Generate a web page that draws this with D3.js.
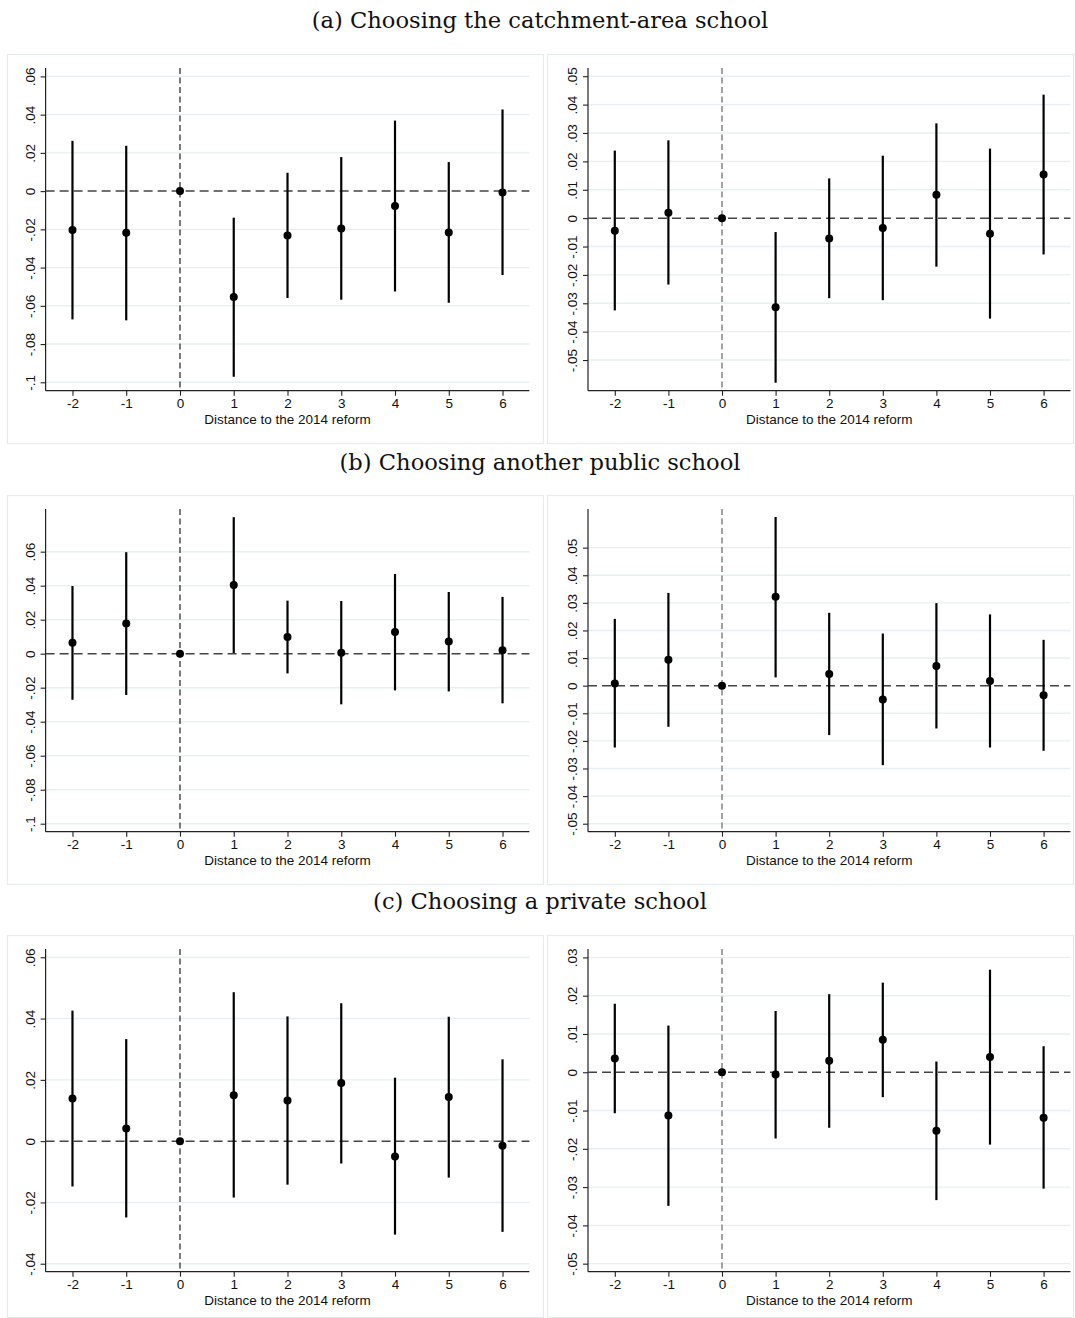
<!DOCTYPE html>
<html>
<head>
<meta charset="utf-8">
<script src="https://cdn.jsdelivr.net/npm/d3@7"></script>
<style>
  html, body { margin: 0; padding: 0; background: #fff; }
  svg { display: block; }
</style>
</head>
<body>
<svg id="chart" width="1075" height="1318"></svg>
<script>
// ---------------- DATA ----------------
const periods = [-2, -1, 0, 1, 2, 3, 4, 5, 6];
const xTickLabels = ["-2", "-1", "0", "1", "2", "3", "4", "5", "6"];
const xAxisTitle = "Distance to the 2014 reform";
const rowTitles = [
  "(a) Choosing the catchment-area school",
  "(b) Choosing another public school",
  "(c) Choosing a private school"
];

// (a) left
const aLeftCoef = [-0.0204, -0.0218, 0, -0.0554, -0.0232, -0.0195, -0.0078, -0.0216, -0.0007];
const aLeftLo   = [-0.0671, -0.0676, 0, -0.0971, -0.0559, -0.0568, -0.0525, -0.0584, -0.0439];
const aLeftHi   = [ 0.0263,  0.0237, 0, -0.0139,  0.0096,  0.0178,  0.0369,  0.0152,  0.0427];
// (a) right
const aRightCoef = [-0.0044, 0.0019, 0, -0.0314, -0.0072, -0.0035, 0.0082, -0.0055, 0.0154];
const aRightLo   = [-0.0325, -0.0234, 0, -0.0580, -0.0282, -0.0289, -0.0171, -0.0354, -0.0128];
const aRightHi   = [ 0.0238, 0.0274, 0, -0.0049, 0.0140, 0.0220, 0.0334, 0.0245, 0.0435];
// (b) left
const bLeftCoef = [0.0065, 0.0177, 0, 0.0404, 0.0098, 0.0006, 0.0128, 0.0071, 0.0020];
const bLeftLo   = [-0.0271, -0.0243, 0, 0.0004, -0.0116, -0.0298, -0.0216, -0.0222, -0.0292];
const bLeftHi   = [0.0398, 0.0597, 0, 0.0803, 0.0312, 0.0310, 0.0469, 0.0363, 0.0334];
// (b) right
const bRightCoef = [0.0008, 0.0094, 0, 0.0322, 0.0042, -0.0050, 0.0071, 0.0017, -0.0035];
const bRightLo   = [-0.0224, -0.0149, 0, 0.0030, -0.0179, -0.0288, -0.0155, -0.0224, -0.0236];
const bRightHi   = [0.0242, 0.0336, 0, 0.0611, 0.0264, 0.0189, 0.0299, 0.0258, 0.0166];
// (c) left
const cLeftCoef = [0.0139, 0.0041, 0, 0.0150, 0.0133, 0.0190, -0.0050, 0.0144, -0.0015];
const cLeftLo   = [-0.0148, -0.0249, 0, -0.0184, -0.0142, -0.0073, -0.0305, -0.0119, -0.0296];
const cLeftHi   = [0.0426, 0.0333, 0, 0.0486, 0.0407, 0.0450, 0.0207, 0.0406, 0.0267];
// (c) right
const cRightCoef = [0.0036, -0.0113, 0, -0.0006, 0.0030, 0.0085, -0.0153, 0.0040, -0.0119];
const cRightLo   = [-0.0107, -0.0349, 0, -0.0173, -0.0145, -0.0065, -0.0334, -0.0189, -0.0304];
const cRightHi   = [0.0179, 0.0122, 0, 0.0160, 0.0204, 0.0234, 0.0028, 0.0268, 0.0068];

// y-axis ticks and labels
const yTicksWide   = [-0.1, -0.08, -0.06, -0.04, -0.02, 0, 0.02, 0.04, 0.06];
const yLabelsWide  = ["-.1", "-.08", "-.06", "-.04", "-.02", "0", ".02", ".04", ".06"];
const yTicksFive   = [-0.05, -0.04, -0.03, -0.02, -0.01, 0, 0.01, 0.02, 0.03, 0.04, 0.05];
const yLabelsFive  = ["-.05", "-.04", "-.03", "-.02", "-.01", "0", ".01", ".02", ".03", ".04", ".05"];
const yTicksCL     = [-0.04, -0.02, 0, 0.02, 0.04, 0.06];
const yLabelsCL    = ["-.04", "-.02", "0", ".02", ".04", ".06"];
const yTicksCR     = [-0.05, -0.04, -0.03, -0.02, -0.01, 0, 0.01, 0.02, 0.03];
const yLabelsCR    = ["-.05", "-.04", "-.03", "-.02", "-.01", "0", ".01", ".02", ".03"];

// y-axis ranges (bottom, top)
const yRangeAL = [-0.1044, 0.0644];
const yRangeAR = [-0.0608, 0.0529];
const yRangeBL = [-0.1047, 0.0851];
const yRangeBR = [-0.0529, 0.0640];
const yRangeCL = [-0.0426, 0.0627];
const yRangeCR = [-0.0521, 0.0322];

// ---------------- LAYOUT ----------------
const svg = d3.select("#chart");
const rowFrameTop = [54, 495, 935];
const rowTitleY = [28, 470, 909];
const colFrame = [{x: 7, w: 536}, {x: 547, w: 526}];
const colPlot = [{l: 45.6, r: 529.4}, {l: 588, r: 1070.4}];
const frameH = 389;
const plotTopOff = 14, plotBotOff = 336.7;
const sansFont = "'Liberation Sans', Arial, Helvetica, sans-serif";

const panels = [
  {row: 0, col: 0, coef: aLeftCoef, lo: aLeftLo, hi: aLeftHi, dom: yRangeAL, ticks: yTicksWide, labels: yLabelsWide},
  {row: 0, col: 1, coef: aRightCoef, lo: aRightLo, hi: aRightHi, dom: yRangeAR, ticks: yTicksFive, labels: yLabelsFive},
  {row: 1, col: 0, coef: bLeftCoef, lo: bLeftLo, hi: bLeftHi, dom: yRangeBL, ticks: yTicksWide, labels: yLabelsWide},
  {row: 1, col: 1, coef: bRightCoef, lo: bRightLo, hi: bRightHi, dom: yRangeBR, ticks: yTicksFive, labels: yLabelsFive},
  {row: 2, col: 0, coef: cLeftCoef, lo: cLeftLo, hi: cLeftHi, dom: yRangeCL, ticks: yTicksCL, labels: yLabelsCL},
  {row: 2, col: 1, coef: cRightCoef, lo: cRightLo, hi: cRightHi, dom: yRangeCR, ticks: yTicksCR, labels: yLabelsCR}
];

// Row titles
svg.selectAll("text.rowtitle").data(rowTitles).enter().append("text")
  .attr("class", "rowtitle")
  .attr("x", 540).attr("y", (d, i) => rowTitleY[i])
  .attr("text-anchor", "middle")
  .attr("font-family", "'DejaVu Serif', 'Liberation Serif', serif")
  .attr("font-size", 22.6)
  .attr("fill", "#111")
  .text(d => d);

panels.forEach(p => {
  const ft = rowFrameTop[p.row];
  const cf = colFrame[p.col];
  const cp = colPlot[p.col];
  const top = ft + plotTopOff, bot = ft + plotBotOff;
  const fh = Math.min(frameH, 1317 - ft);

  const g = svg.append("g");
  // panel frame
  g.append("rect")
    .attr("x", cf.x + 0.5).attr("y", ft + 0.5)
    .attr("width", cf.w).attr("height", fh)
    .attr("fill", "#fff").attr("stroke", "#e4ecee").attr("stroke-width", 1.2);

  const x = d3.scaleLinear().domain([-2.5, 6.5]).range([cp.l, cp.r]);
  const y = d3.scaleLinear().domain(p.dom).range([bot, top]);

  // gridlines
  g.append("g").selectAll("line").data(p.ticks.filter(t => Math.abs(t) > 1e-9)).enter().append("line")
    .attr("x1", cp.l).attr("x2", cp.r)
    .attr("y1", d => y(d)).attr("y2", d => y(d))
    .attr("stroke", "#e6eff1").attr("stroke-width", 1.4);

  // y axis
  const yAxis = d3.axisLeft(y).tickValues(p.ticks)
    .tickFormat((d, i) => p.labels[i]).tickSize(5).tickPadding(4);
  const yg = g.append("g").attr("transform", `translate(${cp.l},0)`).call(yAxis)
    .attr("font-family", sansFont).attr("font-size", 13.5);
  yg.select(".domain").attr("d", `M0,${top}V${bot}`).attr("stroke", "#222").attr("stroke-width", 1.2);
  yg.selectAll(".tick line").attr("stroke", "#222").attr("stroke-width", 1.1);
  yg.selectAll(".tick text")
    .style("font-family", sansFont).style("font-size", "13.5px")
    .attr("fill", "#111")
    .attr("text-anchor", "middle")
    .attr("x", 0).attr("dy", 0)
    .attr("transform", "translate(-11,0) rotate(-90)");

  // x axis
  const xAxis = d3.axisBottom(x).tickValues(periods)
    .tickFormat((d, i) => xTickLabels[i]).tickSize(5).tickPadding(3);
  const xg = g.append("g").attr("transform", `translate(0,${bot})`).call(xAxis)
    .attr("font-family", sansFont).attr("font-size", 13.5);
  xg.select(".domain").attr("d", `M${cp.l},0H${cp.r}`).attr("stroke", "#222").attr("stroke-width", 1.2);
  xg.selectAll(".tick line").attr("stroke", "#222").attr("stroke-width", 1.1);
  xg.selectAll(".tick text")
    .style("font-family", sansFont).style("font-size", "13.5px")
    .attr("fill", "#111");

  // x axis title
  g.append("text")
    .attr("x", x(2)).attr("y", bot + 33)
    .attr("text-anchor", "middle")
    .style("font-family", sansFont).style("font-size", "13.5px")
    .attr("fill", "#111")
    .text(xAxisTitle);

  // reference lines
  g.append("line")
    .attr("x1", x(0)).attr("x2", x(0)).attr("y1", top).attr("y2", bot)
    .attr("stroke", p.col === 0 ? "#222" : "#666").attr("stroke-width", 1.2)
    .attr("stroke-dasharray", "6,3.5");
  g.append("line")
    .attr("x1", cp.l).attr("x2", cp.r).attr("y1", y(0)).attr("y2", y(0))
    .attr("stroke", "#444").attr("stroke-width", 1.5)
    .attr("stroke-dasharray", "9,5");

  // error bars
  const pts = periods.map((t, i) => ({t, c: p.coef[i], lo: p.lo[i], hi: p.hi[i]}));
  g.append("g").selectAll("line").data(pts.filter(d => d.hi !== d.lo)).enter().append("line")
    .attr("x1", d => x(d.t)).attr("x2", d => x(d.t))
    .attr("y1", d => y(d.lo)).attr("y2", d => y(d.hi))
    .attr("stroke", "#000").attr("stroke-width", 2.2);

  // points
  g.append("g").selectAll("circle").data(pts).enter().append("circle")
    .attr("cx", d => x(d.t)).attr("cy", d => y(d.c))
    .attr("r", 4).attr("fill", "#000");
});
</script>
</body>
</html>
